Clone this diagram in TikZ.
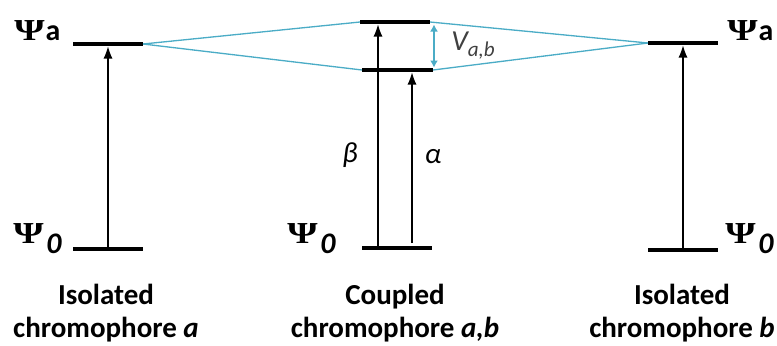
\documentclass[tikz,border=0pt]{standalone}
\usepackage{fontspec}
\setmainfont{Carlito}
\newfontfamily\psifont{Liberation Serif}
\usetikzlibrary{arrows.meta}
\definecolor{coupling}{RGB}{75,172,198}

\tikzset{
  level/.style={line width=2.8pt},
  trans/.style={line width=0.6pt,-{Latex[length=0.24cm,width=0.18cm]}},
  mix/.style={coupling,line width=0.75pt},
  psilbl/.style={anchor=base west,inner sep=0pt,font=\fontsize{17}{20}\selectfont\bfseries},
  caption/.style={align=center,inner sep=0pt,font=\fontsize{16.5}{19}\selectfont\bfseries},
  greek/.style={inner sep=0pt,font=\fontsize{16.5}{20}\selectfont\itshape},
}
\newcommand{\PsiA}{\scalebox{1.3}[1.02]{\psifont Ψ}\kern0.5pt a}
\newcommand{\PsiO}{\scalebox{1.3}[1.02]{\psifont Ψ}\kern1.5pt\raisebox{-0.2cm}{\itshape 0}}

\begin{document}
\begin{tikzpicture}[x=0.02cm,y=-0.02cm]
  \useasboundingbox (0,0) rectangle (777,345);
  % Coordinates
  \coordinate (aUL) at (73,44);
  \coordinate (aUR) at (143,44);
  \coordinate (aGL) at (73,249);
  \coordinate (aGR) at (143,249);
  \coordinate (abUL) at (360,22);
  \coordinate (abUR) at (430,22);
  \coordinate (abML) at (362,70);
  \coordinate (abMR) at (433,70);
  \coordinate (abGL) at (362,248);
  \coordinate (abGR) at (432,248);
  \coordinate (bUL) at (648,43);
  \coordinate (bUR) at (718,43);
  \coordinate (bGL) at (648,250);
  \coordinate (bGR) at (718,250);
  % arrow ends
  \coordinate (aE) at (108,46.5);
  \coordinate (aG) at (108,246.5);
  \coordinate (betaE) at (378,24.5);
  \coordinate (betaG) at (378,245.5);
  \coordinate (alphaE) at (412,72.5);
  \coordinate (alphaG) at (412,243);
  \coordinate (bE) at (683,45.5);
  \coordinate (bG) at (683,247.5);
  \coordinate (vT) at (434,24.5);
  \coordinate (vB) at (434,67.5);

  % Coupling lines
  \draw[mix] (aUR) -- (abUL);
  \draw[mix] (aUR) -- (abML);
  \draw[mix] (abUR) -- (bUL);
  \draw[mix] (abMR) -- (bUL);
  \draw[mix,{Latex[length=0.14cm,width=0.16cm]}-{Latex[length=0.14cm,width=0.16cm]}] (vT) -- (vB);

  % Levels
  \draw[level] (aUL) -- (aUR);
  \draw[level] (aGL) -- (aGR);
  \draw[level] (abUL) -- (abUR);
  \draw[level] (abML) -- (abMR);
  \draw[level] (abGL) -- (abGR);
  \draw[level] (bUL) -- (bUR);
  \draw[level] (bGL) -- (bGR);

  % Transitions
  \draw[trans] (aG) -- (aE);
  \draw[trans] (betaG) -- (betaE);
  \draw[trans] (alphaG) -- (alphaE);
  \draw[trans] (bG) -- (bE);

  % Labels
  \node[psilbl] (psiAa) at (14,40) {\PsiA};
  \node[psilbl] (psiAb) at (727,40) {\PsiA};
  \node[psilbl] (psiOa) at (13,243) {\PsiO};
  \node[psilbl] (psiOab) at (287,243) {\PsiO};
  \node[psilbl] (psiOb) at (725,243) {\PsiO};
  \node[greek] (beta) at (350,155) {β};
  \node[greek] (alpha) at (433,157) {α};
  \node[greek,anchor=base west,text=black!75] (vab) at (451,50)
    {V\raisebox{-0.14cm}{\fontsize{12}{12}\selectfont a,b}};

  % Captions
  \node[caption] (capA) at (106,313) {Isolated\\chromophore \textit{a}};
  \node[caption] (capAB) at (395,313) {Coupled\\chromophore \textit{a,b}};
  \node[caption] (capB) at (682,313) {Isolated\\chromophore \textit{b}};
\end{tikzpicture}
\end{document}
